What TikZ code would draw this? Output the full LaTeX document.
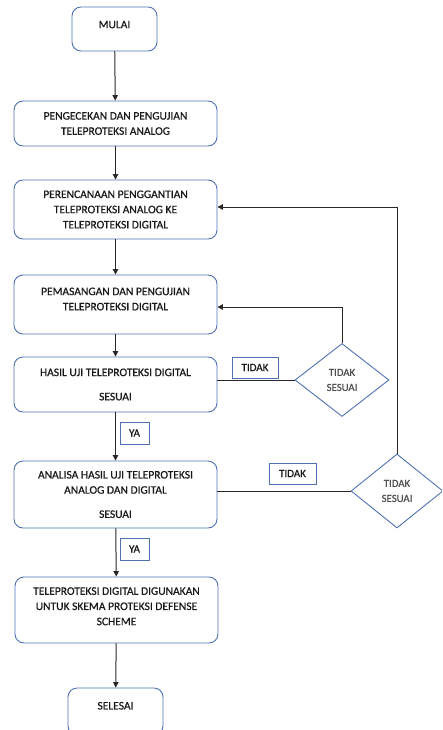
\documentclass[tikz,border=0pt]{standalone}
\usepackage{fontspec}
\setmainfont[FakeBold=0.7]{Carlito}
\usetikzlibrary{shapes.geometric,arrows.meta}
\definecolor{boxblue}{RGB}{79,113,178}
\definecolor{linegray}{RGB}{40,40,40}
\definecolor{txt}{RGB}{25,25,25}
\definecolor{dtxt}{RGB}{80,80,80}
\tikzset{
  proc/.style={draw=boxblue, line width=0.9pt, rounded corners=9pt, inner sep=0pt,
    align=center, text=txt, font=\fontsize{11.5}{15.2}\selectfont},
  dec/.style={draw=boxblue, line width=0.9pt, diamond, inner sep=0pt,
    align=center, text=dtxt, font=\fontsize{10.8}{15}\selectfont},
  lab/.style={draw=boxblue, line width=0.9pt, inner sep=0pt, text=txt,
    font=\fontsize{11}{12}\selectfont},
  arr/.style={draw=linegray, line width=1pt, -{Triangle[width=5.5pt,length=5.5pt]}},
  ln/.style={draw=linegray, line width=1pt}
}
\begin{document}
\begin{tikzpicture}[x=1pt,y=-1pt]
\useasboundingbox (0,0) rectangle (442,730);
\clip (0,0) rectangle (442,730);
\node[proc, minimum width=85pt, minimum height=44pt, text depth=9pt] (mulai) at (114.5,29) {MULAI};
\node[proc, minimum width=203pt, minimum height=45pt] (b2) at (115.5,123.5)
  {PENGECEKAN DAN PENGUJIAN\\TELEPROTEKSI ANALOG};
\node[proc, minimum width=203pt, minimum height=59pt] (b3) at (115.5,209.5)
  {PERENCANAAN PENGGANTIAN\\TELEPROTEKSI ANALOG KE\\TELEPROTEKSI DIGITAL};
\node[proc, minimum width=203pt, minimum height=59pt, text depth=11pt] (b4) at (115.5,304.5)
  {PEMASANGAN DAN PENGUJIAN\\TELEPROTEKSI DIGITAL};
\node[proc, minimum width=203pt, minimum height=55pt] (b5) at (115.5,384.5)
  {HASIL UJI TELEPROTEKSI DIGITAL\\[9pt]SESUAI};
\node[proc, minimum width=203pt, minimum height=67pt] (b6) at (115.5,494.5)
  {ANALISA HASIL UJI TELEPROTEKSI\\ANALOG DAN DIGITAL\\[9pt]SESUAI};
\node[proc, minimum width=203pt, minimum height=66pt, text depth=7.5pt] (b7) at (116.5,610)
  {TELEPROTEKSI DIGITAL DIGUNAKAN\\UNTUK SKEMA PROTEKSI DEFENSE\\SCHEME};
\node[proc, minimum width=95pt, minimum height=47pt, text depth=11.5pt] (b8) at (115.5,711.5)
  {SELESAI};
\node[dec, minimum width=94pt, minimum height=73pt] (d1) at (342,380) {TIDAK\\SESUAI};
\node[dec, minimum width=92pt, minimum height=74pt] (d2) at (397,491) {TIDAK\\SESUAI};
\draw[arr] (mulai) -- (b2);
\draw[arr] (b2) -- (b3);
\draw[arr] (b3) -- (b4);
\draw[arr] (b4) -- (b5);
\draw[arr] (b5) -- (b6);
\draw[arr] (b6) -- (b7);
\draw[arr] (b7) -- (b8);
\draw[ln] (b5.east |- d1.west) -- (d1.west);
\draw[ln] (b6.east |- d2.west) -- (d2.west);
\draw[arr] (d1.north) |- ([yshift=-2.5pt]b4.east);
\draw[arr] (d2.north) |- ([yshift=2.5pt]b3.east);
\node[lab, minimum width=46pt, minimum height=21pt] (t1) at (255,367.5) {TIDAK};
\node[lab, minimum width=47pt, minimum height=21pt] (t2) at (292.5,473.5) {TIDAK};
\node[lab, minimum width=29pt, minimum height=22pt] (y1) at (134.5,433) {YA};
\node[lab, minimum width=29pt, minimum height=22pt] (y2) at (134.5,549) {YA};
\end{tikzpicture}
\end{document}
